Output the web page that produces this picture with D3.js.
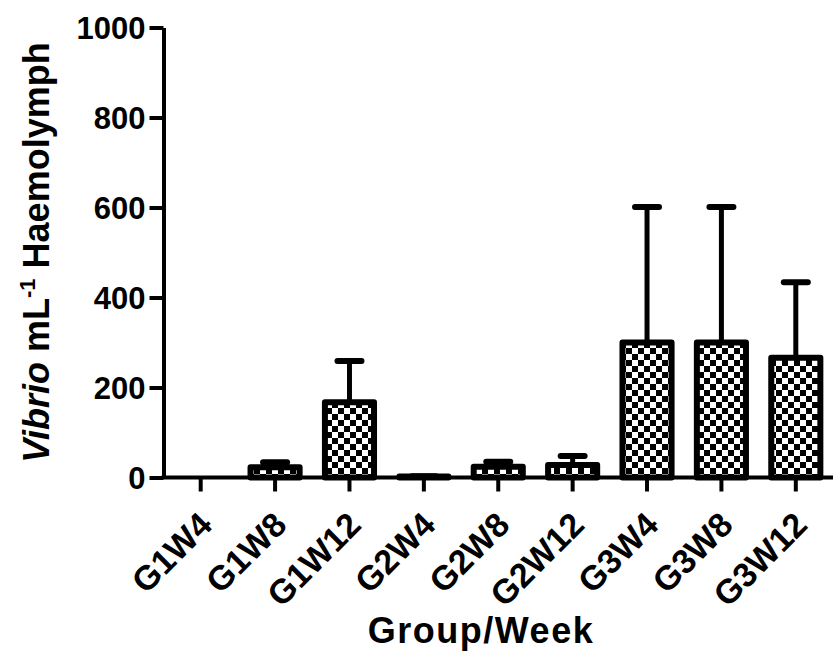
<!DOCTYPE html>
<html>
<head>
<meta charset="utf-8">
<script src="https://cdn.jsdelivr.net/npm/d3@7"></script>
<style>
  body { margin: 0; background: #fff; }
  svg { display: block; }
  text { font-family: "Liberation Sans", Arial, sans-serif; font-weight: bold; fill: #000; }
</style>
</head>
<body>
<svg id="chart" width="833" height="661"></svg>
<script>
const categories = ["G1W4", "G1W8", "G1W12", "G2W4", "G2W8", "G2W12", "G3W4", "G3W8", "G3W12"];
const means = [0, 23, 167, 2, 24, 28, 300, 300, 266];
const upper = [0, 34, 259, 3, 35, 48, 601, 601, 434];
const yTicks = [0, 200, 400, 600, 800, 1000];

const svg = d3.select("#chart");
const x0 = 163.5, x1 = 833, yBottom = 477.5, yTop = 27.5;

const x = d3.scaleBand().domain(categories).range([x0, x1]).padding(0);
const y = d3.scaleLinear().domain([0, 1000]).range([yBottom, yTop]);

const defs = svg.append("defs");
const pat = defs.append("pattern").attr("id", "checker")
  .attr("patternUnits", "userSpaceOnUse").attr("width", 12).attr("height", 12)
  .attr("x", 2).attr("y", 0);
pat.append("rect").attr("width", 12).attr("height", 12).attr("fill", "#fff");
pat.append("rect").attr("width", 6).attr("height", 6).attr("fill", "#000");
pat.append("rect").attr("x", 6).attr("y", 6).attr("width", 6).attr("height", 6).attr("fill", "#000");

const barW = x.bandwidth() * 0.66;
const data = categories.map((c, i) => ({ c, m: means[i], u: upper[i] }));

// error bars
const eb = svg.append("g");
eb.selectAll("line.v").data(data.filter(d => d.u > d.m)).join("line")
  .attr("x1", d => x(d.c) + x.bandwidth() / 2).attr("x2", d => x(d.c) + x.bandwidth() / 2)
  .attr("y1", d => y(d.m)).attr("y2", d => y(d.u))
  .attr("stroke", "#000").attr("stroke-width", 5);
eb.selectAll("line.cap").data(data.filter(d => d.u > d.m)).join("line")
  .attr("x1", d => x(d.c) + x.bandwidth() / 2 - 12).attr("x2", d => x(d.c) + x.bandwidth() / 2 + 12)
  .attr("y1", d => y(d.u)).attr("y2", d => y(d.u))
  .attr("stroke", "#000").attr("stroke-width", 6).attr("stroke-linecap", "round");

// bars
svg.append("g").selectAll("rect").data(data.filter(d => d.m > 0)).join("rect")
  .attr("x", d => x(d.c) + (x.bandwidth() - barW) / 2)
  .attr("width", barW)
  .attr("y", d => y(d.m))
  .attr("height", d => yBottom - y(d.m))
  .attr("fill", "url(#checker)")
  .attr("stroke", "#000").attr("stroke-width", 6).attr("stroke-linejoin", "round");

// y axis
const yAxis = svg.append("g").attr("transform", `translate(${x0},0)`)
  .call(d3.axisLeft(y).tickValues(yTicks).tickFormat(d3.format("d")).tickSize(14).tickPadding(4).tickSizeOuter(0));
yAxis.select(".domain").attr("stroke", "#000").attr("stroke-width", 4);
yAxis.selectAll(".tick line").attr("stroke", "#000").attr("stroke-width", 4);
yAxis.selectAll(".tick text").style("font-size", "31px").attr("dy", "0.35em");

// x axis
const xAxis = svg.append("g").attr("transform", `translate(0,${yBottom})`)
  .call(d3.axisBottom(x).tickSize(14).tickSizeOuter(0));
xAxis.select(".domain").attr("stroke", "#000").attr("stroke-width", 4)
  .attr("d", `M${x0 - 2},0H${x1}`);
xAxis.selectAll(".tick line").attr("stroke", "#000").attr("stroke-width", 4);
xAxis.selectAll(".tick text")
  .style("font-size", "34px")
  .attr("text-anchor", "end")
  .attr("y", 0).attr("dy", "0.35em")
  .attr("transform", "translate(5,41) rotate(-45)");

// axis titles
const yt = svg.append("text")
  .attr("transform", `translate(48.5,${(yTop + yBottom) / 2}) rotate(-90)`)
  .attr("text-anchor", "middle").style("font-size", "36px");
yt.append("tspan").style("font-style", "italic").text("Vibrio");
yt.append("tspan").text(" mL");
yt.append("tspan").style("font-size", "22px").attr("dy", "-14").text("-1");
yt.append("tspan").attr("dy", "14").text(" Haemolymph");

svg.append("text").attr("x", 481).attr("y", 643).attr("text-anchor", "middle")
  .style("font-size", "36px").style("letter-spacing", "1.5px").text("Group/Week");
</script>
</body>
</html>
